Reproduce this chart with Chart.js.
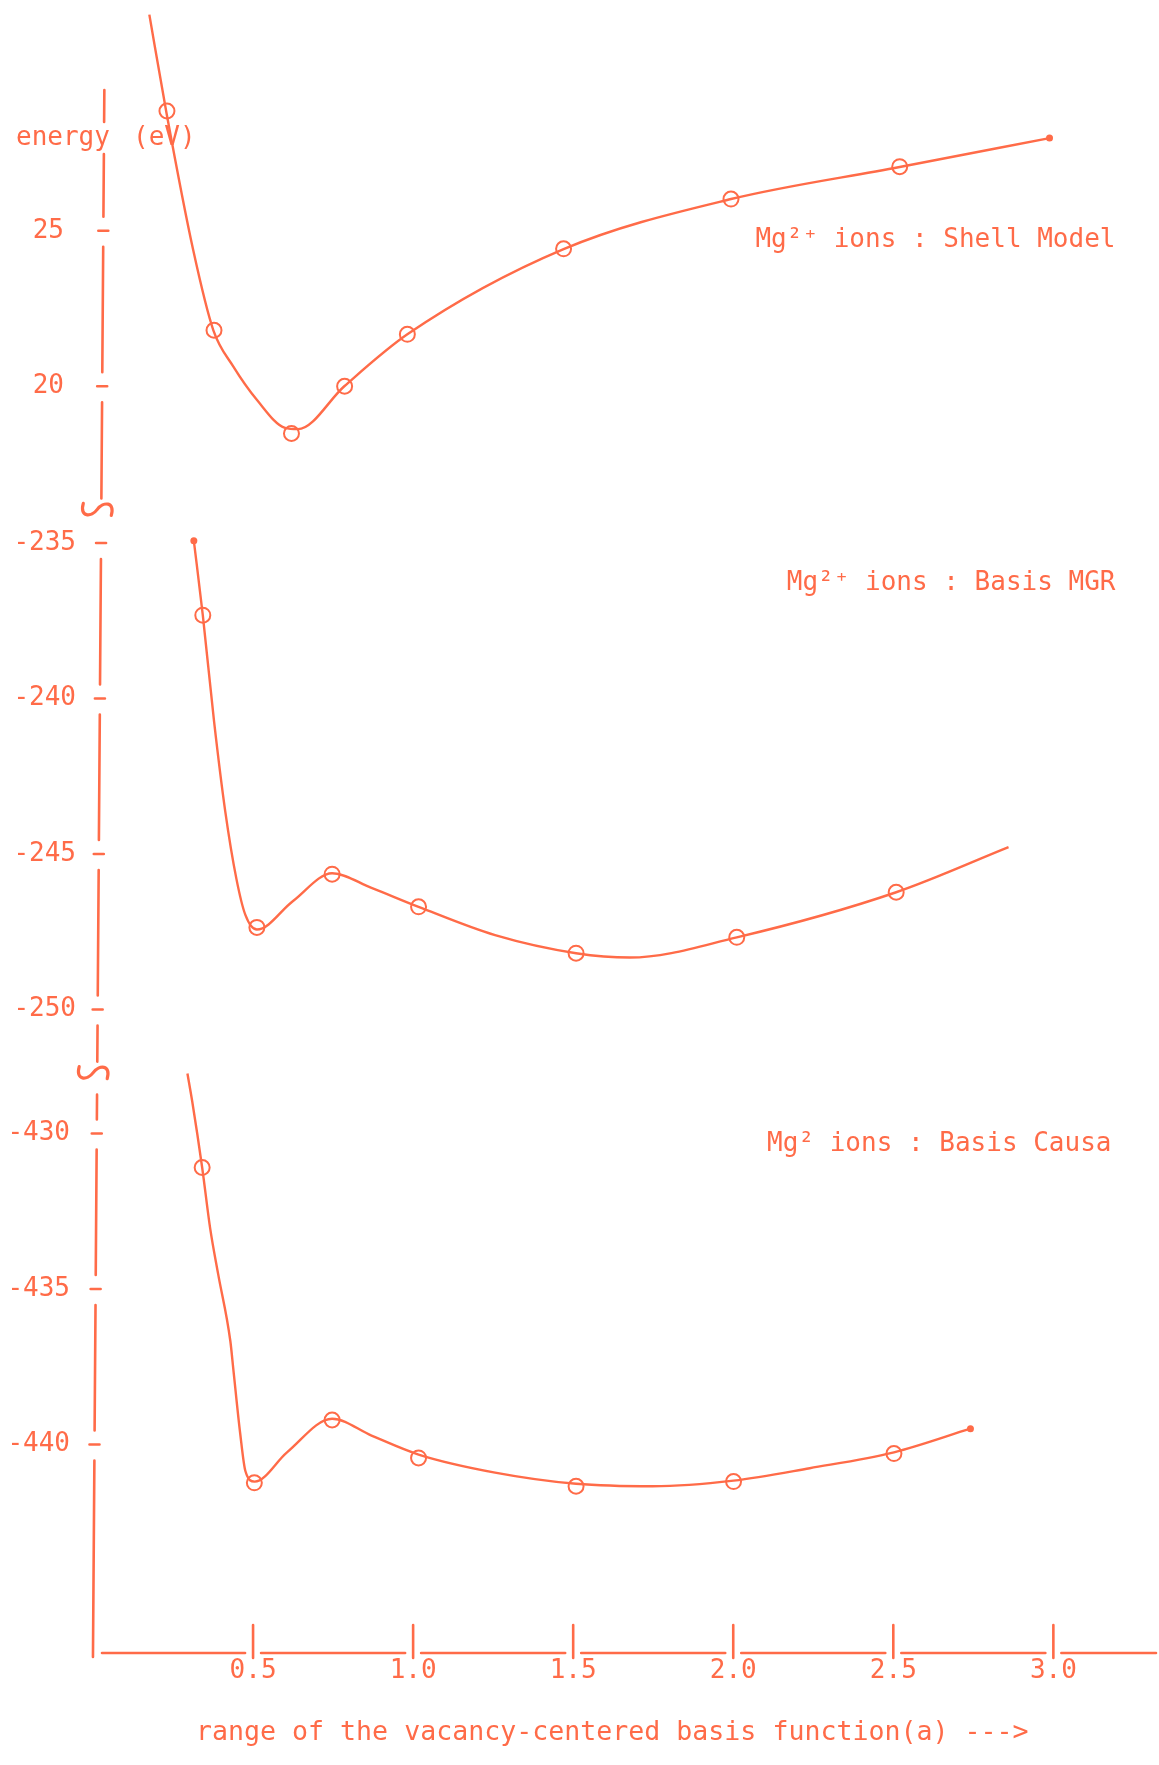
<!DOCTYPE html>
<html>
<head>
<meta charset="utf-8">
<title>Energy vs range of the vacancy-centered basis function</title>
<script src="https://cdn.jsdelivr.net/npm/chart.js@4.4.0/dist/chart.umd.min.js"></script>
<style>
    html, body { margin: 0; padding: 0; background: #ffffff; }
    canvas { display: block; }
</style>
</head>
<body>
<canvas id="energyChart" width="1159" height="1765"></canvas>
<script>
// Energy of the Mg2+ vacancy, three panels sharing one x axis

const INK = '#ff6b48';
const FONT = '"DejaVu Sans Mono", "Liberation Mono", monospace';

// x axis ticks (range of the basis function, a)
const xTicks = [0.5, 1.0, 1.5, 2.0, 2.5, 3.0];

// y axis ticks, one list per panel
const shellTicks = [20, 25];
const mgrTicks = [-250, -245, -240, -235];
const causaTicks = [-440, -435, -430];

// visible value window of each panel (broken axis)
const shellRange = [16.04, 32.42];
const mgrRange = [-252.03, -233.92];
const causaRange = [-446.67, -428.04];

// Panel 1 : Shell Model - plotted circles
const shellX = [0.231, 0.378, 0.620, 0.786, 0.982, 1.470, 1.993, 2.520];
const shellY = [28.85, 21.80, 18.48, 20.00, 21.67, 24.42, 26.02, 27.06];
// hand drawn curve
const shellCurveX = [0.176, 0.229, 0.313, 0.376, 0.438, 0.513, 0.600, 0.640, 0.785, 0.982, 1.470, 1.993, 2.520, 2.988];
const shellCurveY = [31.95, 28.82, 24.38, 21.80, 20.64, 19.55, 18.66, 18.62, 20.00, 21.67, 24.41, 26.02, 27.05, 27.98];

// Panel 2 : Basis MGR
const mgrX = [0.343, 0.512, 0.747, 1.017, 1.509, 2.011, 2.509];
const mgrY = [-237.32, -247.36, -245.65, -246.70, -248.19, -247.68, -246.23];
const mgrCurveX = [0.315, 0.343, 0.378, 0.413, 0.448, 0.476, 0.512, 0.624, 0.747, 0.870, 1.017, 1.256, 1.509, 1.677, 2.011, 2.509, 2.860];
const mgrCurveY = [-234.93, -237.32, -240.72, -243.62, -245.80, -246.96, -247.43, -246.52, -245.62, -246.09, -246.70, -247.61, -248.19, -248.33, -247.68, -246.23, -244.78];

// Panel 3 : Basis Causa
const causaX = [0.341, 0.504, 0.747, 1.017, 1.509, 2.001, 2.502];
const causaY = [-431.09, -441.23, -439.21, -440.43, -441.34, -441.19, -440.29];
const causaCurveX = [0.295, 0.310, 0.341, 0.366, 0.391, 0.429, 0.438, 0.460, 0.476, 0.505, 0.606, 0.747, 0.870, 1.017, 1.256, 1.509, 1.748, 2.001, 2.239, 2.502, 2.741];
const causaCurveY = [-428.07, -428.97, -431.09, -433.05, -434.52, -436.67, -437.54, -439.66, -440.85, -441.19, -440.25, -439.17, -439.71, -440.32, -440.90, -441.26, -441.34, -441.16, -440.76, -440.25, -439.49];

const toPoints = (xs, ys) => xs.map((x, i) => ({ x: x, y: ys[i] }));

function curveSet(xs, ys, axis, dots) {
    return {
        data: toPoints(xs, ys),
        yAxisID: axis,
        borderColor: INK,
        backgroundColor: INK,
        borderWidth: 2.4,
        cubicInterpolationMode: 'monotone',
        pointRadius: ctx => dots.includes(ctx.dataIndex) ? 3.5 : 0,
        pointBorderWidth: 0,
        fill: false
    };
}

function markerSet(xs, ys, axis) {
    return {
        data: toPoints(xs, ys),
        yAxisID: axis,
        showLine: false,
        pointRadius: 7.5,
        pointBorderWidth: 2,
        pointBorderColor: INK,
        pointBackgroundColor: 'rgba(255,255,255,0)'
    };
}

function yScale(range, ticks, pad) {
    return {
        type: 'linear',
        position: 'left',
        stack: 'energy',
        stackWeight: range[1] - range[0],
        min: range[0],
        max: range[1],
        grid: { display: false, drawTicks: false },
        border: { display: false },
        afterBuildTicks: s => { s.ticks = ticks.map(v => ({ value: v })); },
        afterFit: s => { s.width = 93; s.paddingTop = 0; s.paddingBottom = 0; },
        ticks: {
            color: INK,
            font: { family: FONT, size: 26 },
            padding: pad,
            callback: v => String(v)
        }
    };
}

// hand ruled axes with gaps at the ticks and break marks
const paperAxes = {
    id: 'paperAxes',
    afterDraw(chart) {
        const { ctx, chartArea, scales } = chart;
        const xs = scales.x;
        const bottom = chartArea.bottom;
        const x0 = xs.getPixelForValue(0);
        const axisX = y => x0 + 12 * (bottom - y) / bottom;

        ctx.save();
        ctx.strokeStyle = INK;
        ctx.fillStyle = INK;
        ctx.lineWidth = 2.6;
        ctx.lineCap = 'round';

        // collect gaps on the y axis
        const gaps = [[122, 154]];
        const tickMarks = [];
        [['y1', shellTicks], ['y2', mgrTicks], ['y3', causaTicks]].forEach(([id, list]) => {
            list.forEach(v => {
                const p = scales[id].getPixelForValue(v);
                gaps.push([p - 14, p + 16]);
                tickMarks.push(p);
            });
        });
        const breaks = [scales.y1.bottom, scales.y2.bottom];
        breaks.forEach(p => gaps.push([p - 11, p + 22]));
        gaps.sort((a, b) => a[0] - b[0]);

        let y = 90;
        ctx.beginPath();
        gaps.forEach(([g0, g1]) => {
            if (g0 > y + 2) {
                ctx.moveTo(axisX(y), y);
                ctx.lineTo(axisX(g0), g0);
            }
            y = Math.max(y, g1);
        });
        ctx.moveTo(axisX(y), y);
        ctx.lineTo(axisX(bottom + 5), bottom + 5);
        ctx.stroke();

        // short tick dashes
        ctx.beginPath();
        tickMarks.forEach(p => {
            const ax = axisX(p);
            ctx.moveTo(ax - 5, p);
            ctx.lineTo(ax + 5, p);
        });
        ctx.stroke();

        // break squiggles
        ctx.lineWidth = 3.2;
        breaks.forEach(p => {
            const cx = axisX(p) - 4;
            const cy = p;
            ctx.beginPath();
            ctx.moveTo(cx - 14, cy - 6);
            ctx.bezierCurveTo(cx - 18, cy + 8, cx - 6, cy + 8, cx, cy);
            ctx.bezierCurveTo(cx + 6, cy - 8, cx + 18, cy - 8, cx + 14, cy + 6);
            ctx.stroke();
        });

        // x axis with gaps and upright ticks
        ctx.lineWidth = 2.6;
        const ay = bottom + 1;
        const xg = xTicks.map(v => xs.getPixelForValue(v));
        let sx = x0 + 9;
        ctx.beginPath();
        xg.forEach(px => {
            ctx.moveTo(sx, ay);
            ctx.lineTo(px - 8, ay);
            ctx.moveTo(px, ay - 28);
            ctx.lineTo(px, ay + 5);
            sx = px + 8;
        });
        ctx.moveTo(sx, ay);
        ctx.lineTo(chartArea.right - 3, ay);
        ctx.stroke();

        // texts
        ctx.font = '26px ' + FONT;
        ctx.textBaseline = 'middle';
        ctx.textAlign = 'left';
        ctx.fillText('energy', 16, 138);
        ctx.fillText('(eV)', 133, 138);

        ctx.textAlign = 'right';
        const labelX = xs.getPixelForValue(3.194);
        ctx.fillText('Mg\u00b2\u207a ions : Shell Model', labelX, scales.y1.getPixelForValue(24.70));
        ctx.fillText('Mg\u00b2\u207a ions : Basis MGR', labelX, scales.y2.getPixelForValue(-236.31));
        ctx.fillText('Mg\u00b2 ions : Basis Causa', labelX - 4, scales.y3.getPixelForValue(-430.35));

        ctx.textAlign = 'left';
        ctx.font = '26.6px ' + FONT;
        ctx.fillText('range of the vacancy-centered basis function(a) --->', 196, 1733);
        ctx.restore();
    }
};

new Chart(document.getElementById('energyChart').getContext('2d'), {
    type: 'line',
    data: {
        datasets: [
            curveSet(shellCurveX, shellCurveY, 'y1', [shellCurveX.length - 1]),
            markerSet(shellX, shellY, 'y1'),
            curveSet(mgrCurveX, mgrCurveY, 'y2', [0]),
            markerSet(mgrX, mgrY, 'y2'),
            curveSet(causaCurveX, causaCurveY, 'y3', [causaCurveX.length - 1]),
            markerSet(causaX, causaY, 'y3')
        ]
    },
    plugins: [paperAxes],
    options: {
        responsive: false,
        animation: false,
        layout: { padding: 0, autoPadding: false },
        plugins: {
            legend: { display: false },
            tooltip: { enabled: false }
        },
        scales: {
            x: {
                type: 'linear',
                min: 0,
                max: 3.33,
                grid: { display: false, drawTicks: false },
                border: { display: false },
                afterBuildTicks: s => { s.ticks = xTicks.map(v => ({ value: v })); },
                afterFit: s => { s.height = 113; s.paddingLeft = 0; s.paddingRight = 0; },
                ticks: {
                    color: INK,
                    font: { family: FONT, size: 26 },
                    padding: 4,
                    maxRotation: 0,
                    autoSkip: false,
                    callback: v => v.toFixed(1)
                }
            },
            y3: yScale(causaRange, causaTicks, 23),
            y2: yScale(mgrRange, mgrTicks, 17),
            y1: yScale(shellRange, shellTicks, 29)
        }
    }
});
</script>
</body>
</html>
